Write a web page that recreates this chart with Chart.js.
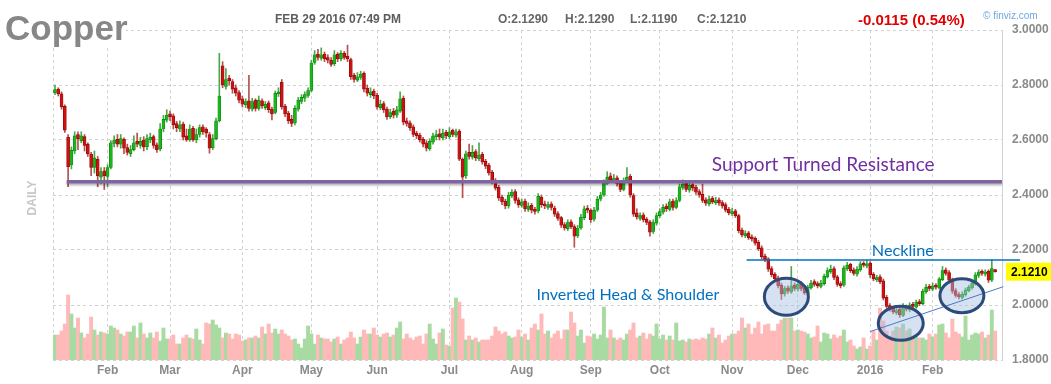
<!DOCTYPE html>
<html><head><meta charset="utf-8">
<script src="https://cdn.jsdelivr.net/npm/chart.js@4.4.1/dist/chart.umd.min.js"></script>
<style>html,body{margin:0;padding:0;background:#fff;}canvas{display:block;}</style>
</head><body>
<canvas id="c" width="1051" height="384"></canvas>
<script>
// ---- DATA (daily copper futures) ----
const opens = [
2.772,2.785,2.768,2.722,2.610,2.510,2.560,2.620,2.598,2.612,
2.585,2.548,2.500,2.530,2.465,2.488,2.468,2.500,2.588,2.602,
2.585,2.602,2.572,2.550,2.565,2.595,2.580,2.600,2.575,2.600,
2.612,2.582,2.568,2.640,2.672,2.695,2.688,2.660,2.640,2.658,
2.615,2.600,2.642,2.600,2.620,2.648,2.640,2.620,2.572,2.605,
2.670,2.870,2.795,2.825,2.812,2.790,2.772,2.750,2.728,2.742,
2.712,2.745,2.715,2.742,2.718,2.735,2.712,2.700,2.768,2.810,
2.722,2.698,2.675,2.662,2.712,2.740,2.752,2.762,2.780,2.882,
2.912,2.898,2.912,2.900,2.890,2.878,2.912,2.895,2.915,2.905,
2.892,2.835,2.818,2.828,2.842,2.788,2.765,2.778,2.762,2.718,
2.732,2.712,2.685,2.705,2.690,2.705,2.752,2.670,2.662,2.648,
2.625,2.618,2.602,2.590,2.568,2.592,2.612,2.622,2.608,2.628,
2.612,2.635,2.618,2.632,2.530,2.470,2.555,2.538,2.558,2.532,
2.548,2.522,2.508,2.482,2.452,2.428,2.392,2.378,2.360,2.398,
2.412,2.382,2.362,2.378,2.348,2.362,2.348,2.342,2.392,2.368,
2.355,2.368,2.352,2.332,2.318,2.292,2.278,2.302,2.285,2.252,
2.280,2.318,2.352,2.345,2.312,2.345,2.385,2.400,2.442,2.470,
2.452,2.462,2.442,2.420,2.450,2.468,2.398,2.335,2.315,2.328,
2.312,2.302,2.268,2.298,2.325,2.338,2.360,2.348,2.378,2.355,
2.380,2.428,2.442,2.418,2.438,2.428,2.412,2.402,2.382,2.368,
2.388,2.372,2.382,2.372,2.365,2.348,2.332,2.342,2.325,2.272,
2.252,2.262,2.248,2.242,2.228,2.208,2.178,2.168,2.132,2.112,
2.098,2.072,2.040,2.062,2.048,2.072,2.058,2.078,2.062,2.045,
2.062,2.085,2.078,2.068,2.078,2.102,2.120,2.132,2.102,2.078,
2.072,2.132,2.148,2.128,2.112,2.128,2.152,2.142,2.152,2.112,
2.092,2.102,2.088,2.028,1.998,1.988,1.972,1.985,1.962,1.992,
1.982,2.002,1.992,2.012,2.005,2.048,2.068,2.058,2.072,2.062,
2.092,2.128,2.118,2.092,2.052,2.038,2.028,2.038,2.052,2.062,
2.078,2.108,2.122,2.112,2.122,2.090,2.129];
const highs = [
2.800,2.790,2.775,2.728,2.620,2.575,2.630,2.630,2.630,2.620,
2.590,2.555,2.560,2.540,2.500,2.500,2.510,2.598,2.615,2.620,
2.620,2.608,2.585,2.580,2.615,2.625,2.610,2.612,2.620,2.625,
2.618,2.590,2.660,2.690,2.710,2.705,2.695,2.668,2.670,2.665,
2.640,2.655,2.650,2.640,2.655,2.655,2.645,2.628,2.620,2.680,
2.915,2.885,2.860,2.835,2.820,2.800,2.780,2.760,2.750,2.835,
2.752,2.750,2.760,2.750,2.740,2.742,2.720,2.778,2.790,2.820,
2.730,2.705,2.690,2.725,2.755,2.765,2.775,2.790,2.890,2.925,
2.930,2.935,2.920,2.910,2.900,2.925,2.918,2.925,2.922,2.945,
2.898,2.842,2.845,2.850,2.848,2.800,2.790,2.785,2.770,2.745,
2.740,2.720,2.712,2.715,2.722,2.775,2.760,2.680,2.670,2.655,
2.632,2.625,2.610,2.598,2.605,2.625,2.635,2.640,2.640,2.635,
2.645,2.640,2.640,2.638,2.535,2.560,2.585,2.580,2.565,2.590,
2.555,2.530,2.515,2.490,2.460,2.435,2.400,2.385,2.410,2.420,
2.420,2.390,2.385,2.385,2.372,2.370,2.355,2.405,2.400,2.378,
2.375,2.375,2.360,2.340,2.322,2.300,2.310,2.310,2.292,2.290,
2.330,2.360,2.362,2.350,2.355,2.395,2.410,2.455,2.485,2.480,
2.475,2.470,2.450,2.462,2.500,2.475,2.405,2.350,2.335,2.335,
2.318,2.308,2.310,2.335,2.350,2.365,2.368,2.385,2.385,2.390,
2.440,2.455,2.450,2.450,2.448,2.435,2.420,2.440,2.390,2.395,
2.395,2.392,2.390,2.380,2.372,2.355,2.352,2.348,2.330,2.280,
2.270,2.268,2.255,2.248,2.235,2.215,2.185,2.172,2.140,2.118,
2.105,2.080,2.068,2.070,2.140,2.080,2.085,2.085,2.070,2.072,
2.090,2.092,2.085,2.090,2.112,2.135,2.145,2.140,2.108,2.085,
2.142,2.155,2.152,2.135,2.140,2.158,2.158,2.162,2.158,2.118,
2.108,2.110,2.095,2.035,2.005,1.995,1.992,1.992,2.005,2.000,
2.008,2.010,2.018,2.020,2.058,2.075,2.075,2.080,2.078,2.100,
2.140,2.135,2.125,2.098,2.060,2.045,2.048,2.062,2.072,2.088,
2.118,2.128,2.128,2.128,2.128,2.165,2.129];
const lows = [
2.765,2.760,2.712,2.628,2.430,2.495,2.550,2.565,2.590,2.560,
2.540,2.470,2.480,2.430,2.440,2.420,2.430,2.495,2.575,2.575,
2.570,2.550,2.545,2.540,2.560,2.575,2.570,2.560,2.565,2.590,
2.570,2.555,2.560,2.630,2.665,2.670,2.640,2.630,2.630,2.600,
2.595,2.595,2.595,2.590,2.610,2.620,2.610,2.552,2.565,2.600,
2.665,2.790,2.785,2.800,2.770,2.760,2.735,2.720,2.718,2.705,
2.705,2.705,2.708,2.715,2.710,2.700,2.673,2.695,2.758,2.712,
2.685,2.660,2.649,2.655,2.705,2.732,2.740,2.755,2.775,2.875,
2.890,2.890,2.885,2.880,2.868,2.870,2.885,2.888,2.893,2.885,
2.820,2.810,2.812,2.820,2.775,2.760,2.755,2.750,2.712,2.710,
2.700,2.675,2.678,2.680,2.682,2.700,2.655,2.650,2.635,2.612,
2.605,2.592,2.575,2.560,2.562,2.585,2.600,2.600,2.600,2.605,
2.605,2.612,2.610,2.525,2.390,2.460,2.530,2.530,2.525,2.525,
2.512,2.495,2.472,2.440,2.418,2.380,2.365,2.350,2.352,2.390,
2.370,2.355,2.355,2.340,2.340,2.335,2.330,2.335,2.355,2.350,
2.348,2.345,2.322,2.308,2.282,2.272,2.270,2.278,2.210,2.245,
2.275,2.310,2.335,2.300,2.305,2.340,2.378,2.395,2.438,2.445,
2.445,2.432,2.412,2.415,2.445,2.392,2.322,2.312,2.308,2.302,
2.292,2.250,2.260,2.290,2.318,2.330,2.340,2.342,2.345,2.350,
2.375,2.420,2.412,2.410,2.415,2.402,2.392,2.372,2.362,2.360,
2.368,2.365,2.362,2.352,2.338,2.328,2.325,2.318,2.262,2.248,
2.245,2.238,2.232,2.218,2.198,2.168,2.158,2.122,2.102,2.085,
2.062,2.020,2.032,2.042,2.042,2.052,2.050,2.052,2.038,2.040,
2.058,2.068,2.062,2.062,2.072,2.098,2.115,2.092,2.068,2.062,
2.068,2.125,2.118,2.108,2.105,2.122,2.138,2.135,2.100,2.088,
2.085,2.078,2.018,1.988,1.978,1.968,1.965,1.955,1.958,1.978,
1.975,1.988,1.988,1.998,2.000,2.042,2.052,2.052,2.058,2.058,
2.088,2.108,2.082,2.042,2.028,2.022,2.022,2.032,2.048,2.058,
2.072,2.100,2.108,2.105,2.082,2.085,2.119];
const closes = [
2.783,2.768,2.720,2.636,2.503,2.563,2.615,2.605,2.615,2.580,
2.550,2.500,2.535,2.470,2.485,2.470,2.500,2.590,2.600,2.585,
2.605,2.570,2.555,2.565,2.590,2.585,2.595,2.575,2.605,2.610,
2.580,2.565,2.640,2.675,2.690,2.685,2.655,2.645,2.655,2.610,
2.600,2.640,2.600,2.620,2.645,2.630,2.625,2.570,2.605,2.670,
2.760,2.800,2.820,2.815,2.785,2.770,2.745,2.730,2.740,2.715,
2.740,2.715,2.745,2.725,2.730,2.710,2.695,2.770,2.775,2.720,
2.695,2.670,2.660,2.715,2.745,2.755,2.765,2.780,2.880,2.910,
2.900,2.910,2.895,2.890,2.875,2.910,2.895,2.915,2.900,2.895,
2.830,2.820,2.830,2.840,2.785,2.770,2.775,2.760,2.720,2.730,
2.710,2.685,2.700,2.690,2.710,2.750,2.665,2.660,2.645,2.620,
2.615,2.600,2.585,2.570,2.595,2.615,2.620,2.610,2.625,2.615,
2.630,2.620,2.630,2.530,2.465,2.550,2.540,2.555,2.535,2.545,
2.520,2.505,2.480,2.450,2.425,2.390,2.375,2.360,2.400,2.410,
2.380,2.365,2.375,2.350,2.360,2.345,2.340,2.395,2.365,2.360,
2.365,2.355,2.330,2.315,2.290,2.280,2.300,2.285,2.250,2.280,
2.320,2.350,2.345,2.310,2.345,2.385,2.400,2.445,2.465,2.455,
2.460,2.440,2.420,2.450,2.465,2.400,2.330,2.320,2.325,2.310,
2.300,2.265,2.300,2.325,2.340,2.355,2.350,2.375,2.355,2.380,
2.430,2.440,2.420,2.435,2.425,2.410,2.400,2.380,2.370,2.385,
2.375,2.380,2.370,2.360,2.345,2.335,2.340,2.325,2.270,2.255,
2.260,2.245,2.240,2.225,2.205,2.175,2.165,2.130,2.110,2.095,
2.070,2.040,2.060,2.050,2.070,2.060,2.075,2.060,2.045,2.065,
2.080,2.075,2.070,2.080,2.105,2.125,2.130,2.100,2.075,2.070,
2.135,2.145,2.125,2.115,2.130,2.150,2.145,2.150,2.110,2.095,
2.100,2.085,2.025,1.995,1.985,1.975,1.980,1.965,1.990,1.985,
2.000,1.995,2.010,2.005,2.050,2.065,2.060,2.070,2.065,2.095,
2.125,2.115,2.090,2.050,2.035,2.030,2.040,2.055,2.065,2.080,
2.110,2.120,2.115,2.120,2.090,2.1325,2.121];
// volume, thousands of contracts
const volumes = [
25,25,29,36,65,46,32,42,27,22,26,43,30,25,28,27,26,34,32,30,
26,24,28,28,34,22,37,26,22,27,22,28,19,32,21,21,25,16,16,22,
25,22,21,31,20,16,37,36,40,35,32,22,27,26,21,26,25,19,20,22,
22,24,22,33,26,36,27,31,26,30,26,24,20,21,16,12,21,34,26,16,
25,22,21,21,18,21,23,16,20,22,28,22,16,23,30,26,26,32,25,23,
26,27,23,25,32,38,21,26,22,20,23,24,16,26,36,21,16,27,31,15,
14,52,62,58,41,20,24,20,22,18,20,20,20,24,33,29,26,28,24,22,
23,30,23,26,20,32,36,30,
46,26,29,22,26,29,21,30,30,48,37,24,30,17,24,23,26,21,25,53,
22,30,22,20,22,20,26,30,37,22,24,27,21,26,24,36,21,25,20,24,
20,37,19,20,18,21,20,21,20,22,21,26,32,22,25,17,20,24,26,26,
29,42,32,36,26,32,38,26,35,36,29,29,36,40,42,42,42,29,30,29,
28,26,22,23,34,18,27,26,21,25,22,24,30,18,20,14,11,13,22,11,
14,29,20,52,39,29,24,29,33,32,36,29,31,24,23,22,22,20,26,23,
26,35,36,27,22,41,28,26,23,44,20,25,27,26,28,22,25,50,29];
const monthIdx = [16,35,57,78,98,120,142,163,184,206,226,248,267];
const monthLabels = ['Feb','Mar','Apr','May','Jun','Jul','Aug','Sep','Oct','Nov','Dec','2016','Feb'];
const priceTicks = [1.8,2.0,2.2,2.4,2.6,2.8,3.0];

// ---- annotations (in data coordinates: trading-day index, price) ----
const supportLevel = 2.4485, supportFrom = 3.55;
const supportLabel = {text:'Support Turned Resistance', i:199.8, p:2.488};
const necklineLevel = 2.1636, necklineFrom = 210.4, necklineTo = 293.6;
const necklineLabel = {text:'Neckline', i:248.5, p:2.178};
const patternLabel = {text:'Inverted Head & Shoulder', i:146.5, p:2.018};
const trendFrom = [247.9, 1.903], trendTo = [288.5, 2.0665];
const shoulders = [[222.5, 2.030], [257.3, 1.9335], [275.9, 2.0335]];

// ---- styles ----
const FONT = "'Liberation Sans', Arial, sans-serif";
const ANN_FONT = "Lato, 'Open Sans', sans-serif";
const GRID = '#d2d2d2';
const UP = '#1cb51c', UP_EDGE = '#0d7f0d', DN = '#cc1111', DN_EDGE = '#8a0a0a';
const WICK_UP = '#4aa84a', WICK_DN = '#b85050';
const VOL_UP = '#a8dba2', VOL_DN = '#ffb9b9';
const last = closes.length - 1;
const isUp = i => closes[i] >= opens[i];

function fitFont(c, text, weight, family, targetW) {
  c.font = `${weight} 20px ${family}`;
  return 20 * targetW / c.measureText(text).width;
}

const overlay = {
  id: 'overlay',
  beforeDraw(chart) {
    const c = chart.ctx; c.save(); c.fillStyle = '#fff'; c.fillRect(0, 0, chart.width, chart.height); c.restore();
  },
  beforeDatasetsDraw(chart) {
    const c = chart.ctx, a = chart.chartArea;
    c.save(); c.strokeStyle = GRID; c.lineWidth = 1; c.setLineDash([3, 3]);
    c.beginPath(); c.moveTo(Math.round(a.left) + 0.5, a.top); c.lineTo(Math.round(a.left) + 0.5, a.bottom); c.stroke();
    c.restore();
  },
  afterDatasetsDraw(chart) {
    const c = chart.ctx, a = chart.chartArea, x = chart.scales.x, y = chart.scales.y;
    const X = v => x.getPixelForValue(v), Y = v => y.getPixelForValue(v);
    c.save();
    // support turned resistance line
    c.save();
    c.shadowColor = 'rgba(0,0,0,0.28)'; c.shadowOffsetY = 2; c.shadowBlur = 2;
    c.strokeStyle = '#8064a2'; c.lineWidth = 3.5;
    c.beginPath(); c.moveTo(X(supportFrom), Y(supportLevel)); c.lineTo(a.right, Y(supportLevel)); c.stroke();
    c.restore();
    // labels
    c.textBaseline = 'alphabetic'; c.textAlign = 'left';
    let fs = fitFont(c, supportLabel.text, 'normal', ANN_FONT, 223);
    c.font = `normal ${fs}px ${ANN_FONT}`; c.fillStyle = '#7030a0';
    c.fillText(supportLabel.text, X(supportLabel.i), Y(supportLabel.p));
    // neckline
    c.strokeStyle = '#0070c0'; c.lineWidth = 1.5;
    c.beginPath(); c.moveTo(X(necklineFrom), Y(necklineLevel)); c.lineTo(X(necklineTo), Y(necklineLevel)); c.stroke();
    fs = fitFont(c, necklineLabel.text, 'normal', ANN_FONT, 62);
    c.font = `normal ${fs}px ${ANN_FONT}`; c.fillStyle = '#0070c0';
    c.fillText(necklineLabel.text, X(necklineLabel.i), Y(necklineLabel.p));
    fs = fitFont(c, patternLabel.text, 'normal', ANN_FONT, 183);
    c.font = `normal ${fs}px ${ANN_FONT}`;
    c.fillText(patternLabel.text, X(patternLabel.i), Y(patternLabel.p));
    // shoulder / head ellipses
    const radii = [[22, 18.5], [22.5, 17], [22, 17]];
    shoulders.forEach((s, k) => {
      c.beginPath(); c.ellipse(X(s[0]), Y(s[1]), radii[k][0], radii[k][1], 0, 0, Math.PI * 2);
      c.fillStyle = 'rgba(165,190,225,0.45)'; c.fill();
    });
    // rising trend line
    c.strokeStyle = '#4a78c8'; c.lineWidth = 1;
    c.beginPath(); c.moveTo(X(trendFrom[0]), Y(trendFrom[1])); c.lineTo(X(trendTo[0]), Y(trendTo[1])); c.stroke();
    shoulders.forEach((s, k) => {
      c.beginPath(); c.ellipse(X(s[0]), Y(s[1]), radii[k][0], radii[k][1], 0, 0, Math.PI * 2);
      c.strokeStyle = '#2c4a7a'; c.lineWidth = 3; c.stroke();
    });
    c.restore();
  },
  afterDraw(chart) {
    const c = chart.ctx, a = chart.chartArea, y = chart.scales.y;
    c.save();
    c.textBaseline = 'alphabetic'; c.textAlign = 'left';
    // title
    c.fillStyle = '#fff'; c.fillRect(0, 6, 126, 39);
    c.font = `bold 35px ${FONT}`; c.fillStyle = '#878787';
    c.fillText('Copper', 5, 40);
    c.font = `bold 12px ${FONT}`; c.fillStyle = '#5c5c5c';
    c.fillText('FEB 29 2016 07:49 PM', 275, 23);
    c.fillStyle = '#666';
    c.fillText('O:' + opens[last].toFixed(4), 498, 23);
    c.fillText('H:' + highs[last].toFixed(4), 565, 23);
    c.fillText('L:' + lows[last].toFixed(4), 630, 23);
    c.fillText('C:' + closes[last].toFixed(4), 697, 23);
    const chg = closes[last] - closes[last - 1];
    const pct = Math.abs(chg / closes[last - 1] * 100);
    c.font = `bold 15px ${FONT}`; c.fillStyle = '#e00000';
    c.fillText(chg.toFixed(4) + ' (' + pct.toFixed(2) + '%)', 858, 25);
    c.font = `10px ${FONT}`; c.fillStyle = '#6fa8dc';
    c.fillText('\u00A9 finviz.com', 983, 19);
    // DAILY
    c.save(); c.translate(36, 198); c.rotate(-Math.PI / 2);
    c.textAlign = 'center'; c.font = `bold 12px ${FONT}`; c.fillStyle = '#c6c6c6';
    c.fillText('DAILY', 0, 0); c.restore();
    // last price tag
    const py = y.getPixelForValue(closes[last]);
    c.fillStyle = '#ffff00'; c.fillRect(a.right + 4, py - 9, chart.width - a.right - 4, 18);
    c.fillStyle = '#000'; c.font = `bold 12px ${FONT}`; c.textBaseline = 'middle';
    c.fillText(closes[last].toFixed(4), a.right + 9, py + 1);
    c.restore();
  }
};

const col = (up, dn) => ctx => (ctx.dataIndex === undefined ? up : (isUp(ctx.dataIndex) ? up : dn));

new Chart(document.getElementById('c'), {
  type: 'bar',
  data: {
    datasets: [
      { label: 'Volume', yAxisID: 'yv', order: 3, grouped: false,
        data: volumes.map((v, i) => ({ x: i, y: v })),
        backgroundColor: col(VOL_UP, VOL_DN), categoryPercentage: 1, barPercentage: 1 },
      { label: 'Range', yAxisID: 'y', order: 2, grouped: false,
        data: lows.map((l, i) => ({ x: i, y: [l, highs[i]] })),
        backgroundColor: col(WICK_UP, WICK_DN), barThickness: 1 },
      { label: 'Body', yAxisID: 'y', order: 1, grouped: false,
        data: opens.map((o, i) => ({ x: i, y: [o, closes[i]] })),
        backgroundColor: col(UP, DN), borderColor: col(UP_EDGE, DN_EDGE),
        borderWidth: 0.6, borderSkipped: false, barThickness: 3, minBarLength: 1 }
    ]
  },
  options: {
    responsive: false, animation: false, devicePixelRatio: 1,
    layout: { padding: { left: 53, top: 30, right: 0, bottom: 0 } },
    plugins: { legend: { display: false }, tooltip: { enabled: false } },
    scales: {
      x: {
        type: 'linear', min: -0.6, max: 288.1, offset: false,
        grid: { offset: false, color: GRID, drawTicks: false, lineWidth: 1 },
        border: { display: false, dash: [3, 3] },
        afterBuildTicks: s => { s.ticks = monthIdx.map(v => ({ value: v })); },
        afterFit: s => { s.height = 24; },
        ticks: { autoSkip: false, maxRotation: 0, padding: 3, color: '#8a8a8a',
          font: { family: FONT, size: 12, weight: 'bold' },
          callback: v => { const k = monthIdx.indexOf(v); return k < 0 ? '' : monthLabels[k]; } }
      },
      y: {
        position: 'right', min: 1.8, max: 3.0,
        grid: { color: GRID, drawTicks: false, lineWidth: 1 },
        border: { display: true, dash: [3, 3], color: GRID },
        afterBuildTicks: s => { s.ticks = priceTicks.map(v => ({ value: v })); },
        afterFit: s => { s.width = 49; },
        ticks: { padding: 10, color: '#8a8a8a', font: { family: FONT, size: 12, weight: 'bold' },
          callback: v => Number(v).toFixed(4) }
      },
      yv: { display: false, min: 0, max: 330 }
    }
  },
  plugins: [overlay]
});
</script>
</body></html>
